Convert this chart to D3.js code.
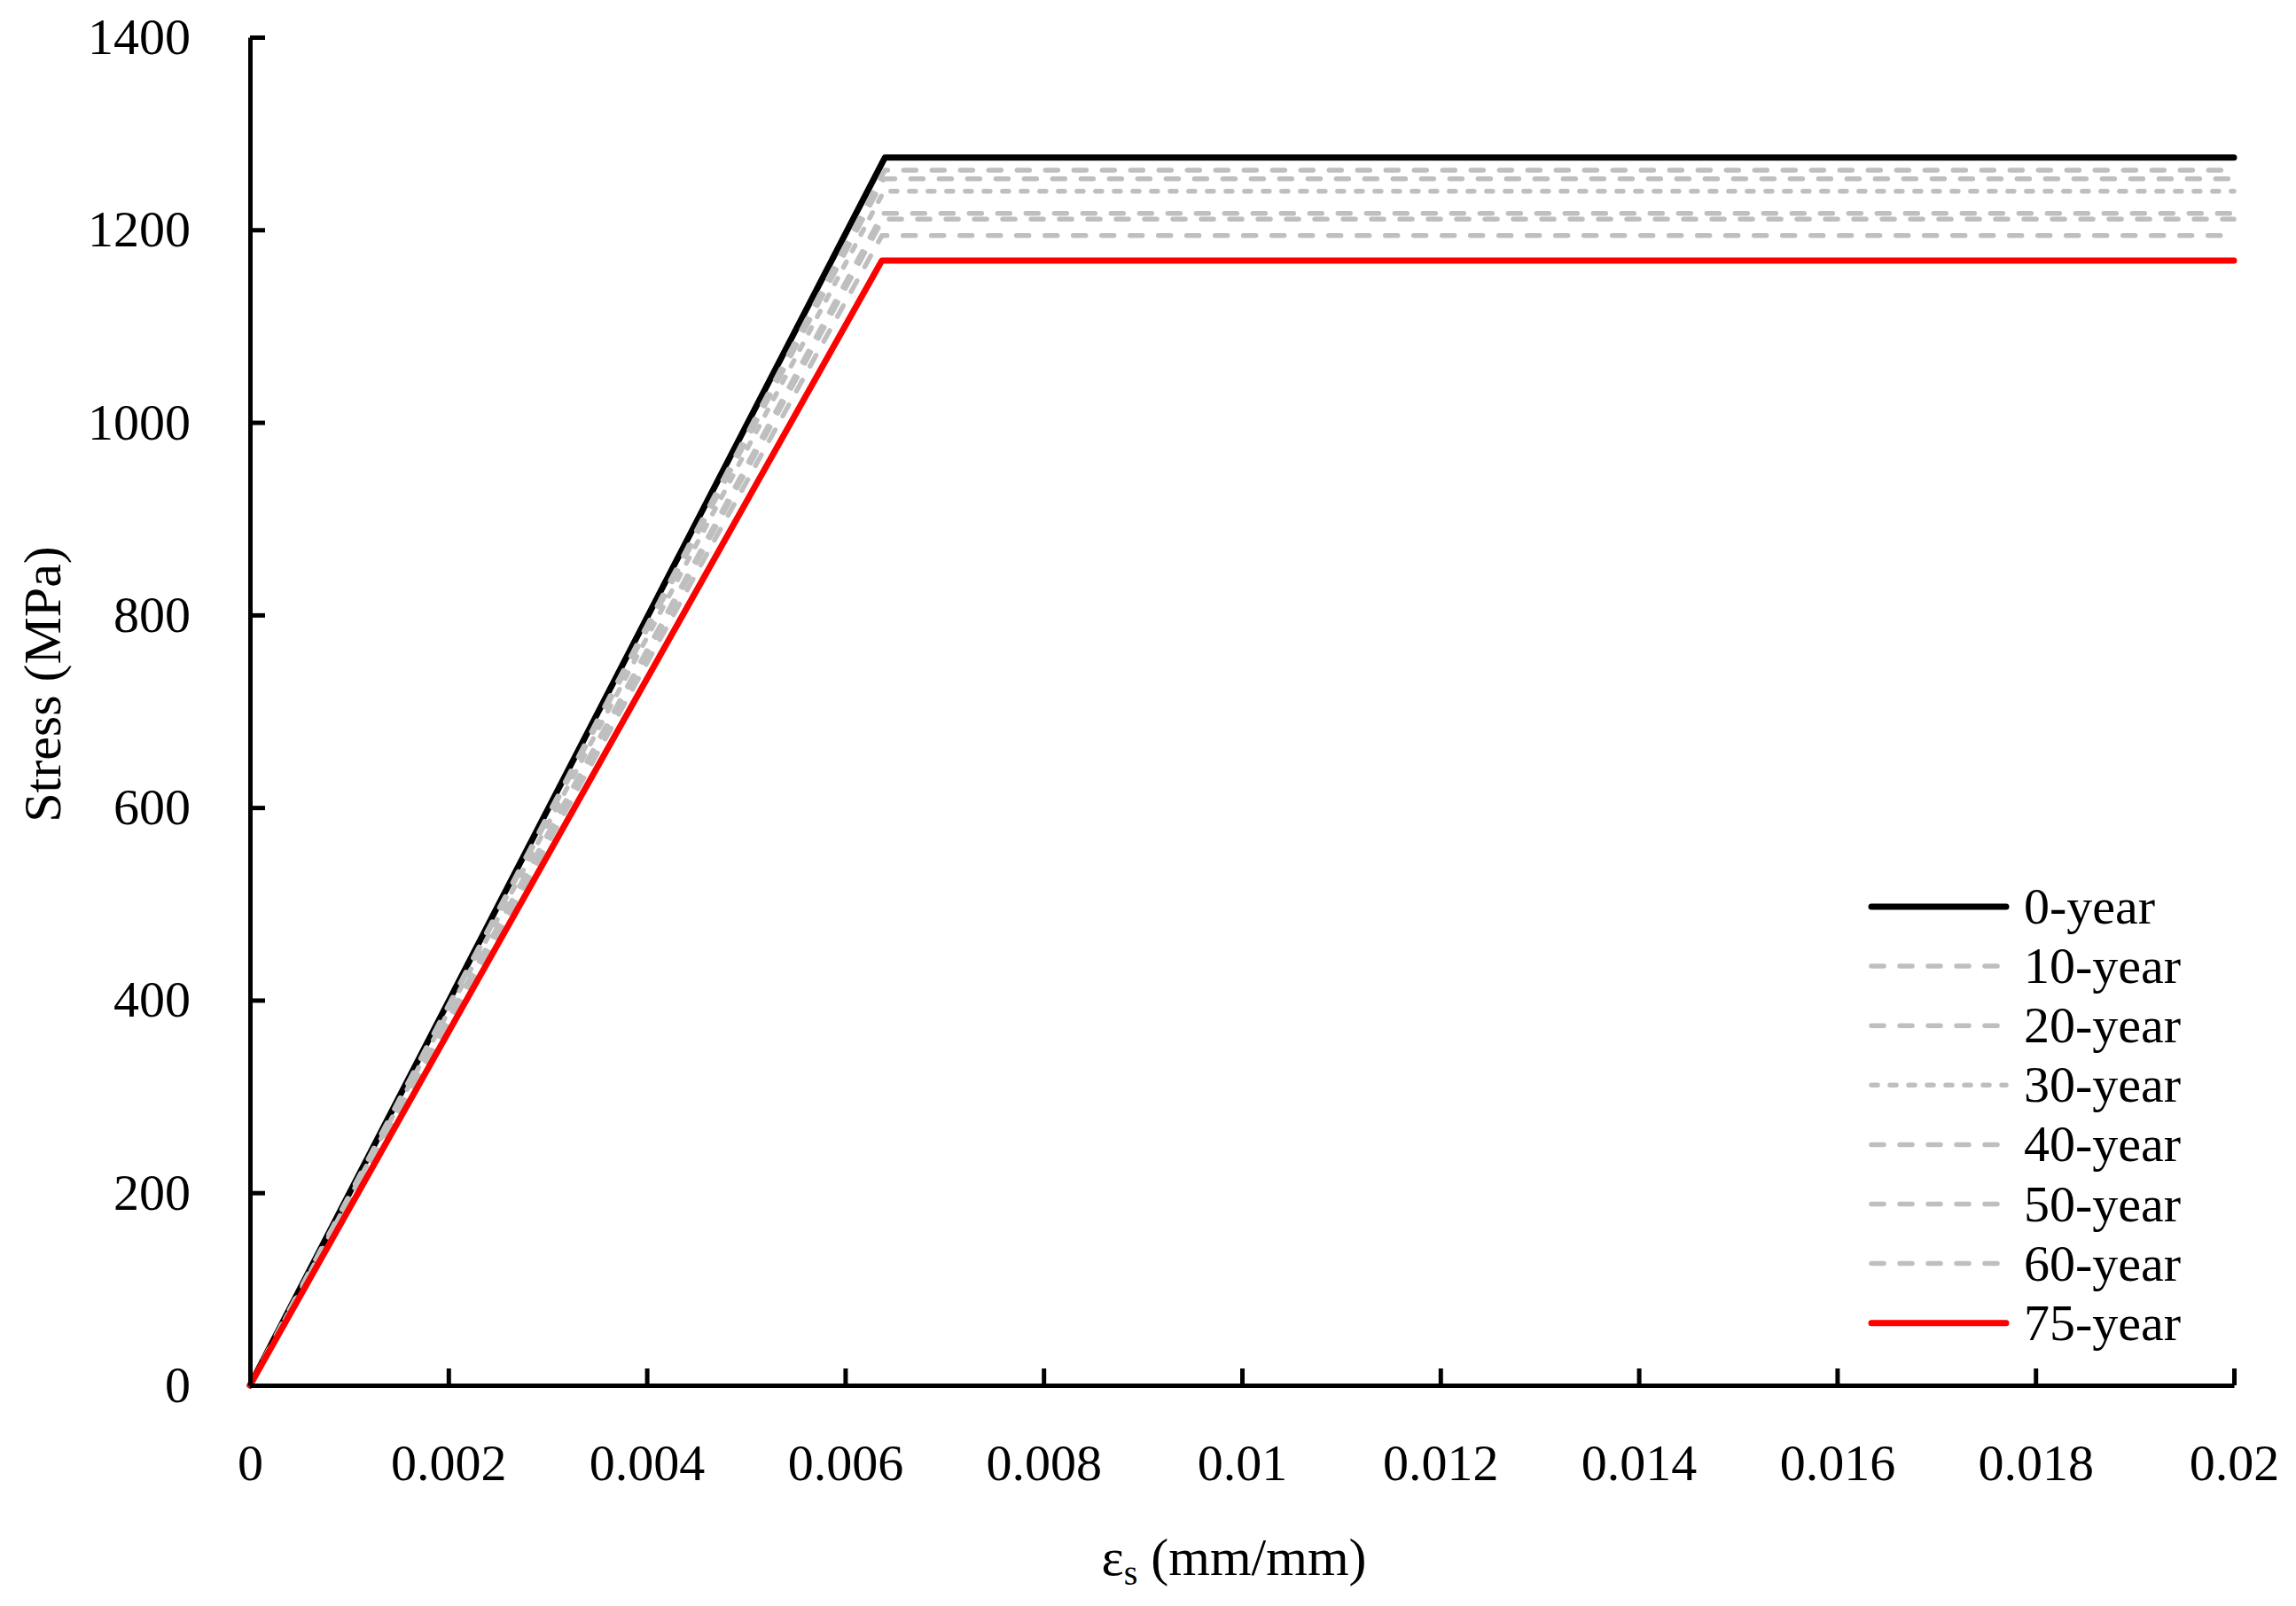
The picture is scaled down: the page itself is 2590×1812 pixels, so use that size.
<!DOCTYPE html>
<html>
<head>
<meta charset="utf-8">
<script src="https://cdn.jsdelivr.net/npm/d3@7"></script>
<style>
  body { margin: 0; background: #fff; }
  text { font-family: "Liberation Serif", serif; fill: #000; }
</style>
</head>
<body>
<div class="chart"></div>
<script>
// series names, plateau stress (MPa) and strain at first yield
const years = ['0-year', '10-year', '20-year', '30-year', '40-year', '50-year', '60-year', '75-year'];
const yieldStress = [1275, 1262, 1253, 1240, 1217, 1211, 1194, 1168];
const yieldStrain = [0.00640, 0.00640, 0.00639, 0.00639, 0.00638, 0.00638, 0.00637, 0.00637];
const maxStrain = 0.02;
const xTicks = [0, 0.002, 0.004, 0.006, 0.008, 0.01, 0.012, 0.014, 0.016, 0.018, 0.02];
const yTicks = [0, 200, 400, 600, 800, 1000, 1200, 1400];

const colors = ['#000000', '#bfbfbf', '#bfbfbf', '#bfbfbf', '#bfbfbf', '#bfbfbf', '#bfbfbf', '#ff0000'];
const dashes = [null, '14 18', '14 18', '7 14', '14 18', '14 18', '14 18', null];
const widths = [7, 5.5, 5.5, 5.5, 5.5, 5.5, 5.5, 7];

const margin = {top: 42, right: 70, bottom: 249, left: 282};
const W = 2590, H = 1812;
const width = W - margin.left - margin.right,
      height = H - margin.top - margin.bottom;

const x = d3.scaleLinear().domain([0, maxStrain]).range([0, width]);
const y = d3.scaleLinear().domain([0, 1400]).range([height, 0]);

const svg = d3.select('.chart')
              .append('svg')
              .attr('width', W)
              .attr('height', H);
const g = svg.append('g')
             .attr('transform', `translate(${margin.left},${margin.top})`);

// build each curve: origin -> yield -> plateau to end
const series = years.map((name, i) => ({
    name: name,
    pts: [[0, 0], [yieldStrain[i], yieldStress[i]], [maxStrain, yieldStress[i]]],
    i: i
}));

const line = d3.line().x(d => x(d[0])).y(d => y(d[1]));

g.selectAll('path.curve')
 .data(series)
 .enter()
 .append('path')
 .attr('class', 'curve')
 .attr('d', d => line(d.pts))
 .attr('fill', 'none')
 .attr('stroke', d => colors[d.i])
 .attr('stroke-width', d => widths[d.i])
 .attr('stroke-dasharray', d => dashes[d.i])
 .attr('stroke-linecap', 'round')
 .attr('stroke-linejoin', 'round');

const fmtX = d => d === 0 ? '0' : String(+d.toFixed(3));

const xAxis = d3.axisBottom(x).tickValues(xTicks).tickFormat(fmtX)
                .tickSizeInner(-19).tickSizeOuter(0).tickPadding(66);
const yAxis = d3.axisLeft(y).tickValues(yTicks).tickFormat(d3.format('d'))
                .tickSizeInner(-17).tickSizeOuter(0).tickPadding(67);

const gx = g.append('g')
            .attr('class', 'axis x-axis')
            .attr('transform', `translate(0, ${height})`)
            .call(xAxis);
const gy = g.append('g')
            .attr('class', 'axis y-axis')
            .call(yAxis);

[gx, gy].forEach(a => {
    a.select('.domain').attr('stroke', '#000').attr('stroke-width', 5);
    a.selectAll('.tick line').attr('stroke', '#000').attr('stroke-width', 5);
    a.selectAll('.tick text')
     .attr('font-family', '"Liberation Serif", serif')
     .attr('font-size', 58)
     .attr('fill', '#000');
});

// axis titles
svg.append('text')
   .attr('transform', 'translate(68, 772) rotate(-90)')
   .attr('text-anchor', 'middle')
   .attr('font-size', 60)
   .text('Stress (MPa)');

const xLabel = svg.append('text')
                  .attr('x', 1392)
                  .attr('y', 1777)
                  .attr('text-anchor', 'middle')
                  .attr('font-size', 60);
xLabel.append('tspan').text('ε');
xLabel.append('tspan').attr('font-size', 40).attr('dy', 11).text('s');
xLabel.append('tspan').attr('dy', -11).text(' (mm/mm)');

// legend
const legend = svg.append('g')
                  .attr('transform', 'translate(2108, 1023)');
const rows = legend.selectAll('g.row')
                   .data(series)
                   .enter()
                   .append('g')
                   .attr('class', 'row')
                   .attr('transform', d => `translate(0, ${d.i * 67.1})`);
rows.append('line')
    .attr('x1', 3).attr('x2', 155)
    .attr('y1', 0).attr('y2', 0)
    .attr('stroke', d => colors[d.i])
    .attr('stroke-width', d => widths[d.i])
    .attr('stroke-dasharray', d => dashes[d.i])
    .attr('stroke-linecap', 'round');
rows.append('text')
    .attr('x', 175)
    .attr('y', 19)
    .attr('font-size', 58)
    .text(d => d.name);
</script>
</body>
</html>
